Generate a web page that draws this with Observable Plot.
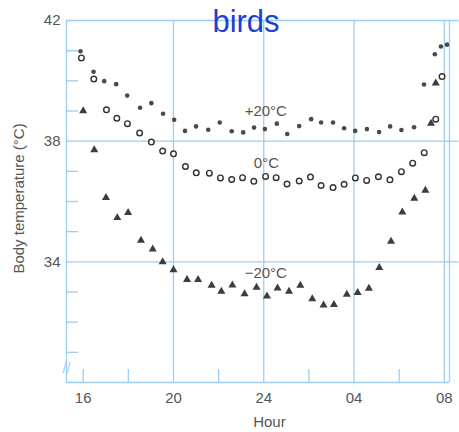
<!DOCTYPE html>
<html><head><meta charset="utf-8">
<script src="https://cdn.jsdelivr.net/npm/d3@7"></script>
<script src="https://cdn.jsdelivr.net/npm/@observablehq/plot@0.6"></script>
<style>
body{margin:0;background:#fff;}
#wrap{position:relative;width:459px;height:432px;}
#title{position:absolute;top:6px;left:246px;transform:translateX(-50%);font:31px "Liberation Sans",Arial,sans-serif;color:#1a3fd4;line-height:31px;white-space:nowrap;}
</style></head>
<body><div id="wrap"></div>
<script>
const titleText = "birds";
const xLabel = "Hour";
const yLabel = "Body temperature (°C)";

const xTicks = [16, 20, 24, 28, 32];
const xTickLabels = ["16", "20", "24", "04", "08"];
const yTicks = [34, 38, 42];
const yTickLabels = ["34", "38", "42"];
const xMinor = [16, 18, 22, 26, 30];
const yMinor = [31, 32, 33, 35, 36, 37, 39, 40, 41];

// +20 °C (filled dots)
const hoursWarm = [15.88,16.46,16.93,17.46,17.95,18.52,19.02,19.54,20.03,20.51,21.0,21.54,22.05,22.58,23.09,23.57,24.05,24.58,25.04,25.57,26.10,26.54,27.07,27.56,28.05,28.57,29.11,29.60,30.10,30.66,31.10,31.58,31.85,32.12];
const tempWarm = [40.98,40.30,39.99,39.89,39.51,39.11,39.26,38.91,38.71,38.34,38.49,38.38,38.62,38.33,38.29,38.45,38.40,38.58,38.24,38.50,38.73,38.62,38.62,38.43,38.34,38.40,38.30,38.49,38.37,38.46,39.88,40.88,41.14,41.20];

// 0 °C (open circles)
const hoursZero = [15.92,16.47,17.03,17.49,17.96,18.50,19.02,19.52,20.0,20.53,21.01,21.59,22.08,22.58,23.06,23.56,24.08,24.55,25.03,25.57,26.07,26.54,27.07,27.56,28.06,28.56,29.08,29.59,30.10,30.60,31.11,31.62,31.90];
const tempZero = [40.76,40.06,39.04,38.76,38.58,38.27,37.97,37.67,37.58,37.16,36.95,36.94,36.78,36.73,36.79,36.67,36.83,36.79,36.58,36.68,36.81,36.53,36.46,36.57,36.78,36.70,36.82,36.72,36.99,37.27,37.62,38.73,40.14];

// -20 °C (triangles)
const hoursCold = [16.0,16.49,17.01,17.51,17.99,18.56,19.08,19.52,20.0,20.6,21.09,21.69,22.12,22.61,23.15,23.68,24.14,24.61,25.12,25.62,26.15,26.65,27.11,27.68,28.16,28.66,29.12,29.64,30.14,30.67,31.16,31.41,31.62];
const tempCold = [39.0,37.71,36.13,35.46,35.63,34.71,34.42,34.0,33.73,33.41,33.41,33.22,33.02,33.23,32.94,33.15,32.86,33.13,33.02,33.22,32.77,32.56,32.58,32.92,32.98,33.12,33.81,34.68,35.65,36.10,36.37,38.59,39.92];

const seriesLabels = ["+20°C", "0°C", "−20°C"];
const seriesLabelHour = [24.09, 24.12, 24.09];
const seriesLabelTemp = [39.0, 37.27, 33.63];

const toRows = (hs, ts) => hs.map((h, i) => ({h, t: ts[i]}));
const warm = toRows(hoursWarm, tempWarm);
const zero = toRows(hoursZero, tempZero);
const cold = toRows(hoursCold, tempCold);
const labelRows = seriesLabels.map((s, i) => ({s, h: seriesLabelHour[i], t: seriesLabelTemp[i]}));

const X0 = 15.26, X1 = 32.23, XEXT = 32.65;
const grid = "#9fcdf0";
const ink = "#555";

const chart = Plot.plot({
  width: 459, height: 432,
  marginLeft: 66, marginRight: 10, marginTop: 20, marginBottom: 50,
  x: {domain: [X0, X1]},
  y: {domain: [30, 42]},
  style: {fontFamily: "'Liberation Sans', Arial, sans-serif", fontSize: "15px", color: ink, background: "#fff"},
  marks: [
    Plot.ruleY([34, 38, 42], {x1: X0, x2: XEXT, stroke: grid, strokeWidth: 1.3}),
    Plot.ruleY([30], {x1: X0, x2: X1, stroke: grid, strokeWidth: 1.3}),
    Plot.ruleX([20, 24, 28, 32], {y1: 30, y2: 42, stroke: grid, strokeWidth: 1.3}),
    Plot.ruleX([X0, X1], {y1: 30, y2: 42, stroke: grid, strokeWidth: 1.3}),
    Plot.ruleX(xMinor, {y1: 30, y2: 30.43, stroke: grid, strokeWidth: 1.3}),
    Plot.ruleY(yMinor, {x1: X0, x2: X0 + 0.53, stroke: grid, strokeWidth: 1.3}),
    Plot.text(["//"], {frameAnchor: "left", y: 30.47, text: d => d, fill: grid, fontSize: 14, textAnchor: "middle"}),
    Plot.axisX({ticks: xTicks, tickFormat: d => xTickLabels[xTicks.indexOf(d)], tickSize: 0, tickPadding: 10, label: null}),
    Plot.axisY({ticks: yTicks, tickFormat: d => yTickLabels[yTicks.indexOf(d)], tickSize: 0, tickPadding: 6, label: null}),
    Plot.text([xLabel], {frameAnchor: "bottom", x: 24.25, dy: 40, text: d => d, fill: ink, textAnchor: "middle", lineAnchor: "middle"}),
    Plot.text([yLabel], {frameAnchor: "left", y: 36.1, dx: -47, rotate: -90, text: d => d, fill: ink, textAnchor: "middle", lineAnchor: "middle"}),
    Plot.text(labelRows, {x: "h", y: "t", text: "s", fill: ink, fontSize: 15}),
    Plot.dot(warm, {x: "h", y: "t", r: 2.3, fill: "#4a4a4a", stroke: "none"}),
    Plot.dot(zero, {x: "h", y: "t", r: 2.8, fill: "#fff", stroke: "#333", strokeWidth: 1.4}),
    Plot.dot(cold, {x: "h", y: "t", r: 3.0, symbol: "triangle", fill: "#3d3d3d", stroke: "none"})
  ]
});
const wrap = document.getElementById("wrap");
wrap.appendChild(chart);
const t = document.createElement("div");
t.id = "title";
t.textContent = titleText;
wrap.appendChild(t);
</script>
</body></html>
